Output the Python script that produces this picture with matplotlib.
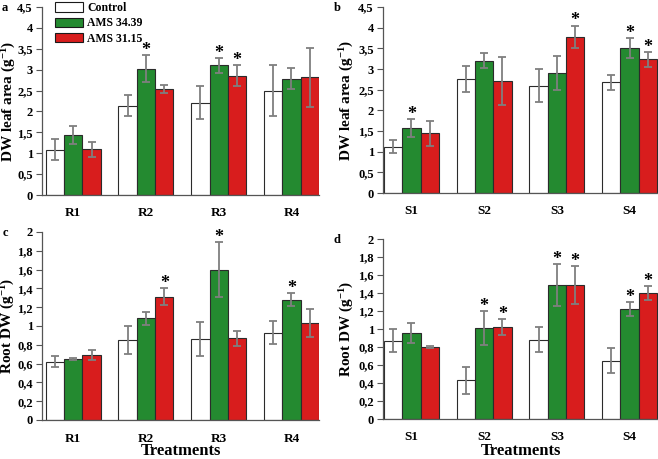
import matplotlib
matplotlib.use("Agg")
import matplotlib.pyplot as plt
import numpy as np
from matplotlib.patches import Patch

plt.rcParams['font.family'] = ['Liberation Serif', 'DejaVu Serif']
plt.rcParams['font.weight'] = 'bold'
plt.rcParams['mathtext.fontset'] = 'custom'
plt.rcParams['mathtext.rm'] = 'Liberation Serif:bold'
plt.rcParams['mathtext.it'] = 'Liberation Serif:bold'
plt.rcParams['mathtext.bf'] = 'Liberation Serif:bold'
plt.rcParams['mathtext.default'] = 'rm'

series = ["Control", "AMS 34.39", "AMS 31.15"]
colors = ["#ffffff", "#248a30", "#d81d1d"]

cats_R = ["R1", "R2", "R3", "R4"]
cats_S = ["S1", "S2", "S3", "S4"]

# Panel a: DW leaf area, R treatments
a_vals = [[1.08, 2.14, 2.21, 2.50],
          [1.44, 3.02, 3.10, 2.78],
          [1.10, 2.54, 2.85, 2.82]]
a_errs = [[0.25, 0.25, 0.40, 0.60],
          [0.22, 0.32, 0.17, 0.25],
          [0.18, 0.09, 0.25, 0.71]]
a_sig = [[0, 0, 0, 0], [0, 1, 1, 0], [0, 0, 1, 0]]

# Panel b: DW leaf area, S treatments
b_vals = [[1.12, 2.76, 2.60, 2.68],
          [1.57, 3.20, 2.91, 3.51],
          [1.44, 2.70, 3.78, 3.23]]
b_errs = [[0.16, 0.31, 0.41, 0.18],
          [0.21, 0.18, 0.41, 0.24],
          [0.31, 0.58, 0.27, 0.18]]
b_sig = [[0, 0, 0, 0], [1, 0, 0, 1], [0, 0, 1, 1]]

# Panel c: Root DW, R treatments
c_vals = [[0.62, 0.85, 0.86, 0.93],
          [0.65, 1.08, 1.60, 1.28],
          [0.69, 1.31, 0.87, 1.03]]
c_errs = [[0.06, 0.15, 0.18, 0.12],
          [0.01, 0.07, 0.29, 0.07],
          [0.05, 0.09, 0.08, 0.15]]
c_sig = [[0, 0, 0, 0], [0, 0, 1, 1], [0, 1, 0, 0]]

# Panel d: Root DW, S treatments
d_vals = [[0.87, 0.43, 0.88, 0.65],
          [0.96, 1.01, 1.49, 1.22],
          [0.80, 1.02, 1.49, 1.40]]
d_errs = [[0.13, 0.15, 0.14, 0.14],
          [0.11, 0.19, 0.23, 0.08],
          [0.01, 0.09, 0.21, 0.08]]
d_sig = [[0, 0, 0, 0], [0, 1, 1, 1], [0, 1, 1, 1]]

fig = plt.figure(figsize=(6.58, 4.59), dpi=100)
W, H = 658, 459

def axes_px(x0, x1, ytop, ybot):
    return fig.add_axes([x0 / W, 1 - ybot / H, (x1 - x0) / W, (ybot - ytop) / H])

def fmt(v):
    s = ("%.1f" % v)
    if s.endswith(".0"):
        s = s[:-2]
    return s.replace(".", ",")

def draw(ax, cats, vals, errs, sig, ymax, step, ylabel, xlim, star_off, label_x):
    x = np.arange(len(cats))
    w = 0.252
    for i in range(3):
        pos = x + (i - 1) * w
        ax.bar(pos, vals[i], width=w, color=colors[i], edgecolor="#2b2b2b",
               linewidth=0.8, zorder=2)
        ax.errorbar(pos, vals[i], yerr=errs[i], fmt="none", ecolor="#7f7f7f",
                    elinewidth=1.3, capsize=3, capthick=1.3, zorder=3)
        for j in range(len(cats)):
            if sig[i][j]:
                ax.text(pos[j], vals[i][j] + errs[i][j] + star_off, "*",
                        ha="center", va="center", fontsize=13,
                        fontweight="bold", zorder=4)
    ax.set_xlim(*xlim)
    ax.set_ylim(0, ymax)
    ticks = np.arange(0, ymax + step / 2, step)
    ax.set_yticks(ticks)
    ax.set_yticklabels([fmt(t) for t in ticks])
    ax.set_xticks(x)
    ax.set_xticklabels(cats)
    ax.tick_params(axis="x", length=0, pad=9, labelsize=9.5)
    ax.tick_params(axis="y", length=4, width=0.8, direction="out", pad=2.5,
                   labelsize=9, color="#555555")
    for s in ["top", "right"]:
        ax.spines[s].set_visible(False)
    for s in ["left", "bottom"]:
        ax.spines[s].set_color("#555555")
        ax.spines[s].set_linewidth(0.9)
    for lab in ax.get_xticklabels() + ax.get_yticklabels():
        lab.set_fontweight("bold")
    ax.set_ylabel(ylabel, fontsize=11, fontweight="bold")
    ax.yaxis.set_label_coords(label_x, 0.5)

ylab_a = "DW leaf area (g$^{-1}$)"
ylab_c = "Root DW (g$^{-1}$)"

axa = axes_px(42, 319, 7, 195)
draw(axa, cats_R, a_vals, a_errs, a_sig, 4.5, 0.5, ylab_a,
     (-0.43, 3.38), 0.12, -0.088)
axb = axes_px(383, 658, 7, 193)
draw(axb, cats_S, b_vals, b_errs, b_sig, 4.5, 0.5, ylab_a,
     (-0.39, 3.39), 0.12, -0.10)
axc = axes_px(42, 319, 232, 420)
draw(axc, cats_R, c_vals, c_errs, c_sig, 2.0, 0.2, ylab_c,
     (-0.43, 3.38), 0.05, -0.09)
axd = axes_px(383, 658, 239, 419)
draw(axd, cats_S, d_vals, d_errs, d_sig, 2.0, 0.2, ylab_c,
     (-0.39, 3.39), 0.05, -0.10)

handles = [Patch(facecolor=colors[i], edgecolor="#1a1a1a", linewidth=0.8)
           for i in range(3)]
leg = axa.legend(handles, series, loc="upper left",
                 bbox_to_anchor=((55 - 42) / 277, (195 - 2) / 188),
                 frameon=False, fontsize=8.5, handlelength=2.4, handleheight=0.85,
                 labelspacing=0.28, handletextpad=0.3, borderaxespad=0.0,
                 borderpad=0.0)
for t in leg.get_texts():
    t.set_fontweight("bold")

for letter, (px, py) in zip("abcd", [(5, 8), (337, 8), (5, 233), (337, 240)]):
    fig.text(px / W, 1 - py / H, letter, fontsize=9, fontweight="bold",
             ha="center", va="center")

for axx in (axc, axd):
    pos = axx.get_position()
    fig.text((pos.x0 + pos.x1) / 2, 1 - 451 / H, "Treatments", fontsize=12,
             fontweight="bold", ha="center", va="center")

fig.savefig("out.png", dpi=100)
